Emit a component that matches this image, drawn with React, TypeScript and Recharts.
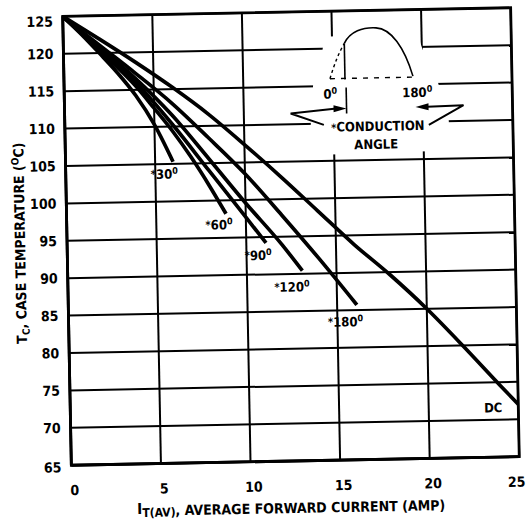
import React from "react";
import { LineChart, Line, XAxis, YAxis, CartesianGrid, ReferenceDot } from "recharts";

// case temperature vs average forward current, one curve per conduction angle
const currentTicks = [0, 5, 10, 15, 20, 25];
const tempTicks = [65, 70, 75, 80, 85, 90, 95, 100, 105, 110, 115, 120, 125];

const i30 = [0, 1, 2, 3, 4, 5, 6];
const t30 = [125, 122.6, 120, 117.3, 114.2, 110.3, 105.3];

const i60 = [0, 2, 4, 5, 6, 7, 8, 8.9];
const t60 = [125, 120.4, 115.5, 112.5, 109.4, 105.9, 102, 98.2];

const i90 = [0, 2, 4, 6, 8, 10, 11.1];
const t90 = [125, 120.6, 116, 110.3, 104, 97.7, 94.2];

const i120 = [0, 2, 4, 6, 8, 10, 12, 13.1];
const t120 = [125, 120.8, 116.5, 111.5, 105.6, 99.6, 93.9, 90.4];

const i180 = [0, 2, 4, 6, 8, 10, 12, 14, 16.1];
const t180 = [125, 121.1, 117.2, 113.1, 108.4, 103.5, 97.9, 92.1, 85.7];

const iDC = [0, 2, 4, 6, 8, 10, 12, 14, 16, 18, 20, 22, 24, 25];
const tDC = [125, 121.9, 118.7, 115.3, 111.6, 107.4, 103, 98.4, 93.8, 89.6, 85, 79.9, 74.6, 72];

// curve labels: [angle text, current, temperature]
const curveLabels: [string, number, number][] = [
  ["30", 5.5, 103.7],
  ["60", 8.5, 96.8],
  ["90", 10.65, 92.6],
  ["120", 12.5, 88.3],
  ["180", 15.45, 83.5],
];

const FONT = "'Liberation Sans Narrow', 'DejaVu Sans Condensed', 'Liberation Sans', sans-serif";

function toSeries(xs: number[], ys: number[]) {
  return xs.map((x, i) => ({ x, t: ys[i] }));
}

const series = [
  toSeries(i30, t30),
  toSeries(i60, t60),
  toSeries(i90, t90),
  toSeries(i120, t120),
  toSeries(i180, t180),
  toSeries(iDC, tDC),
];

function YTick(props: any) {
  const v = props.payload.value;
  const dy = v === 125 ? 10 : v === 65 ? 7 : 5;
  return (
    <text x={57} y={props.y + dy} textAnchor="end" fontFamily={FONT} fontWeight="bold" fontSize={14} fill="#000">
      {v}
    </text>
  );
}

function XTick(props: any) {
  const v = props.payload.value;
  const dx = v === 25 ? -3 : 3;
  return (
    <text x={props.x + dx} y={491} textAnchor="middle" fontFamily={FONT} fontWeight="bold" fontSize={14} fill="#000">
      {v}
    </text>
  );
}

function AngleLabel({ viewBox, text }: any) {
  const cx = viewBox.x + (viewBox.width || 0) / 2;
  const cy = viewBox.y + (viewBox.height || 0) / 2;
  return (
    <text x={cx} y={cy + 5} textAnchor="middle" fontFamily={FONT} fontWeight="bold" fontSize={13} fill="#000">
      <tspan fontSize={11} dy={-1}>*</tspan>
      <tspan dy={1}>{text}</tspan>
      <tspan fontSize={9} dy={-5}>0</tspan>
    </text>
  );
}

function Inset() {
  return (
    <svg width={528} height={523} style={{ position: "absolute", left: 0, top: 0, pointerEvents: "none" }}>
      {/* plot frame */}
      <rect x={67} y={12} width={448} height={449} fill="none" stroke="#000" strokeWidth={2.8} />
      <g transform="translate(3,1.5)">
        <polygon
          points="325,36 418,34 423,50 438,84 448,122 448,152 308,154 310,122 313,84 323,50"
          fill="#fff"
        />
        <path d="M330,78 Q337,56 345,43" fill="none" stroke="#000" strokeWidth={1.4} strokeDasharray="3 3" />
        <line x1={330} y1={78} x2={413} y2={78} stroke="#000" strokeWidth={1.4} strokeDasharray="5 6" />
        <line x1={345} y1={43} x2={345} y2={79} stroke="#000" strokeWidth={1.6} />
        <path d="M345,43 C351,31 364,27 377,28 C392,29 405,48 413,77" fill="none" stroke="#000" strokeWidth={1.6} />
        <line x1={346} y1={87} x2={346} y2={113} stroke="#000" strokeWidth={1.6} />
        <text x={330} y={98} textAnchor="middle" fontFamily={FONT} fontWeight="bold" fontSize={13}>
          0<tspan fontSize={9} dy={-5}>0</tspan>
        </text>
        <text x={417} y={98} textAnchor="middle" fontFamily={FONT} fontWeight="bold" fontSize={13}>
          180<tspan fontSize={9} dy={-5}>0</tspan>
        </text>
        <polyline points="323,124 290,112 336,108" fill="none" stroke="#000" strokeWidth={2} />
        <polygon points="333,104.5 346,108 333,111.5" fill="#000" />
        <polyline points="428,126 463,107 427,108" fill="none" stroke="#000" strokeWidth={2} />
        <polygon points="428,104.5 415,108 428,111.5" fill="#000" />
        <text x={377} y={131} textAnchor="middle" fontFamily={FONT} fontWeight="bold" fontSize={13}>
          <tspan fontSize={11}>*</tspan>CONDUCTION
        </text>
        <text x={375} y={149} textAnchor="middle" fontFamily={FONT} fontWeight="bold" fontSize={13}>
          ANGLE
        </text>
      </g>
    </svg>
  );
}

export default function App() {
  return (
    <div style={{ position: "absolute", left: 0, top: 0, width: 528, height: 523, background: "#fff", overflow: "hidden" }}>
      <div style={{ position: "relative", width: 528, height: 523, transform: "rotate(-1.1deg)", transformOrigin: "291px 237px" }}>
        <LineChart width={528} height={523} margin={{ top: 12, right: 13, left: 0, bottom: 0 }}>
          <CartesianGrid stroke="#000" strokeWidth={2} />
          <XAxis
            type="number"
            dataKey="x"
            domain={[0, 25]}
            ticks={currentTicks}
            allowDataOverflow
            height={62}
            axisLine={{ stroke: "#000", strokeWidth: 2.8 }}
            tickLine={false}
            tick={<XTick />}
          />
          <YAxis
            type="number"
            dataKey="t"
            domain={[65, 125]}
            ticks={tempTicks}
            allowDataOverflow
            width={67}
            axisLine={{ stroke: "#000", strokeWidth: 2.8 }}
            tickLine={false}
            tick={<YTick />}
          />
          {series.map((d, i) => (
            <Line
              key={i}
              data={d}
              dataKey="t"
              type="monotone"
              stroke="#000"
              strokeWidth={3.7}
              dot={false}
              isAnimationActive={false}
            />
          ))}
          {curveLabels.map(([txt, x, y]) => (
            <ReferenceDot key={txt} x={x} y={y} r={0} stroke="none" label={<AngleLabel text={txt} />} />
          ))}
          <ReferenceDot
            x={23.6}
            y={71.6}
            r={0}
            stroke="none"
            label={{ value: "DC", position: "center", fontFamily: FONT, fontWeight: "bold", fontSize: 13, fill: "#000" }}
          />
        </LineChart>
        <svg width={528} height={523} style={{ position: "absolute", left: 0, top: 0, pointerEvents: "none" }}>
          <text
            transform="translate(25,238) rotate(-90)"
            textAnchor="middle"
            fontFamily={FONT}
            fontWeight="bold"
            fontSize={14}
          >
            T<tspan fontSize={10} dy={3}>C</tspan>
            <tspan dy={-3}>, CASE TEMPERATURE (</tspan>
            <tspan fontSize={10} dy={-5}>O</tspan>
            <tspan dy={5}>C)</tspan>
          </text>
          <text x={286} y={513} textAnchor="middle" fontFamily={FONT} fontWeight="bold" fontSize={14}>
            <tspan fontSize={15} dy={-2}>I</tspan>
            <tspan fontSize={12} dy={3}>T(AV)</tspan>
            <tspan dy={-1}>, AVERAGE FORWARD CURRENT (AMP)</tspan>
          </text>
        </svg>
        <Inset />
      </div>
    </div>
  );
}
